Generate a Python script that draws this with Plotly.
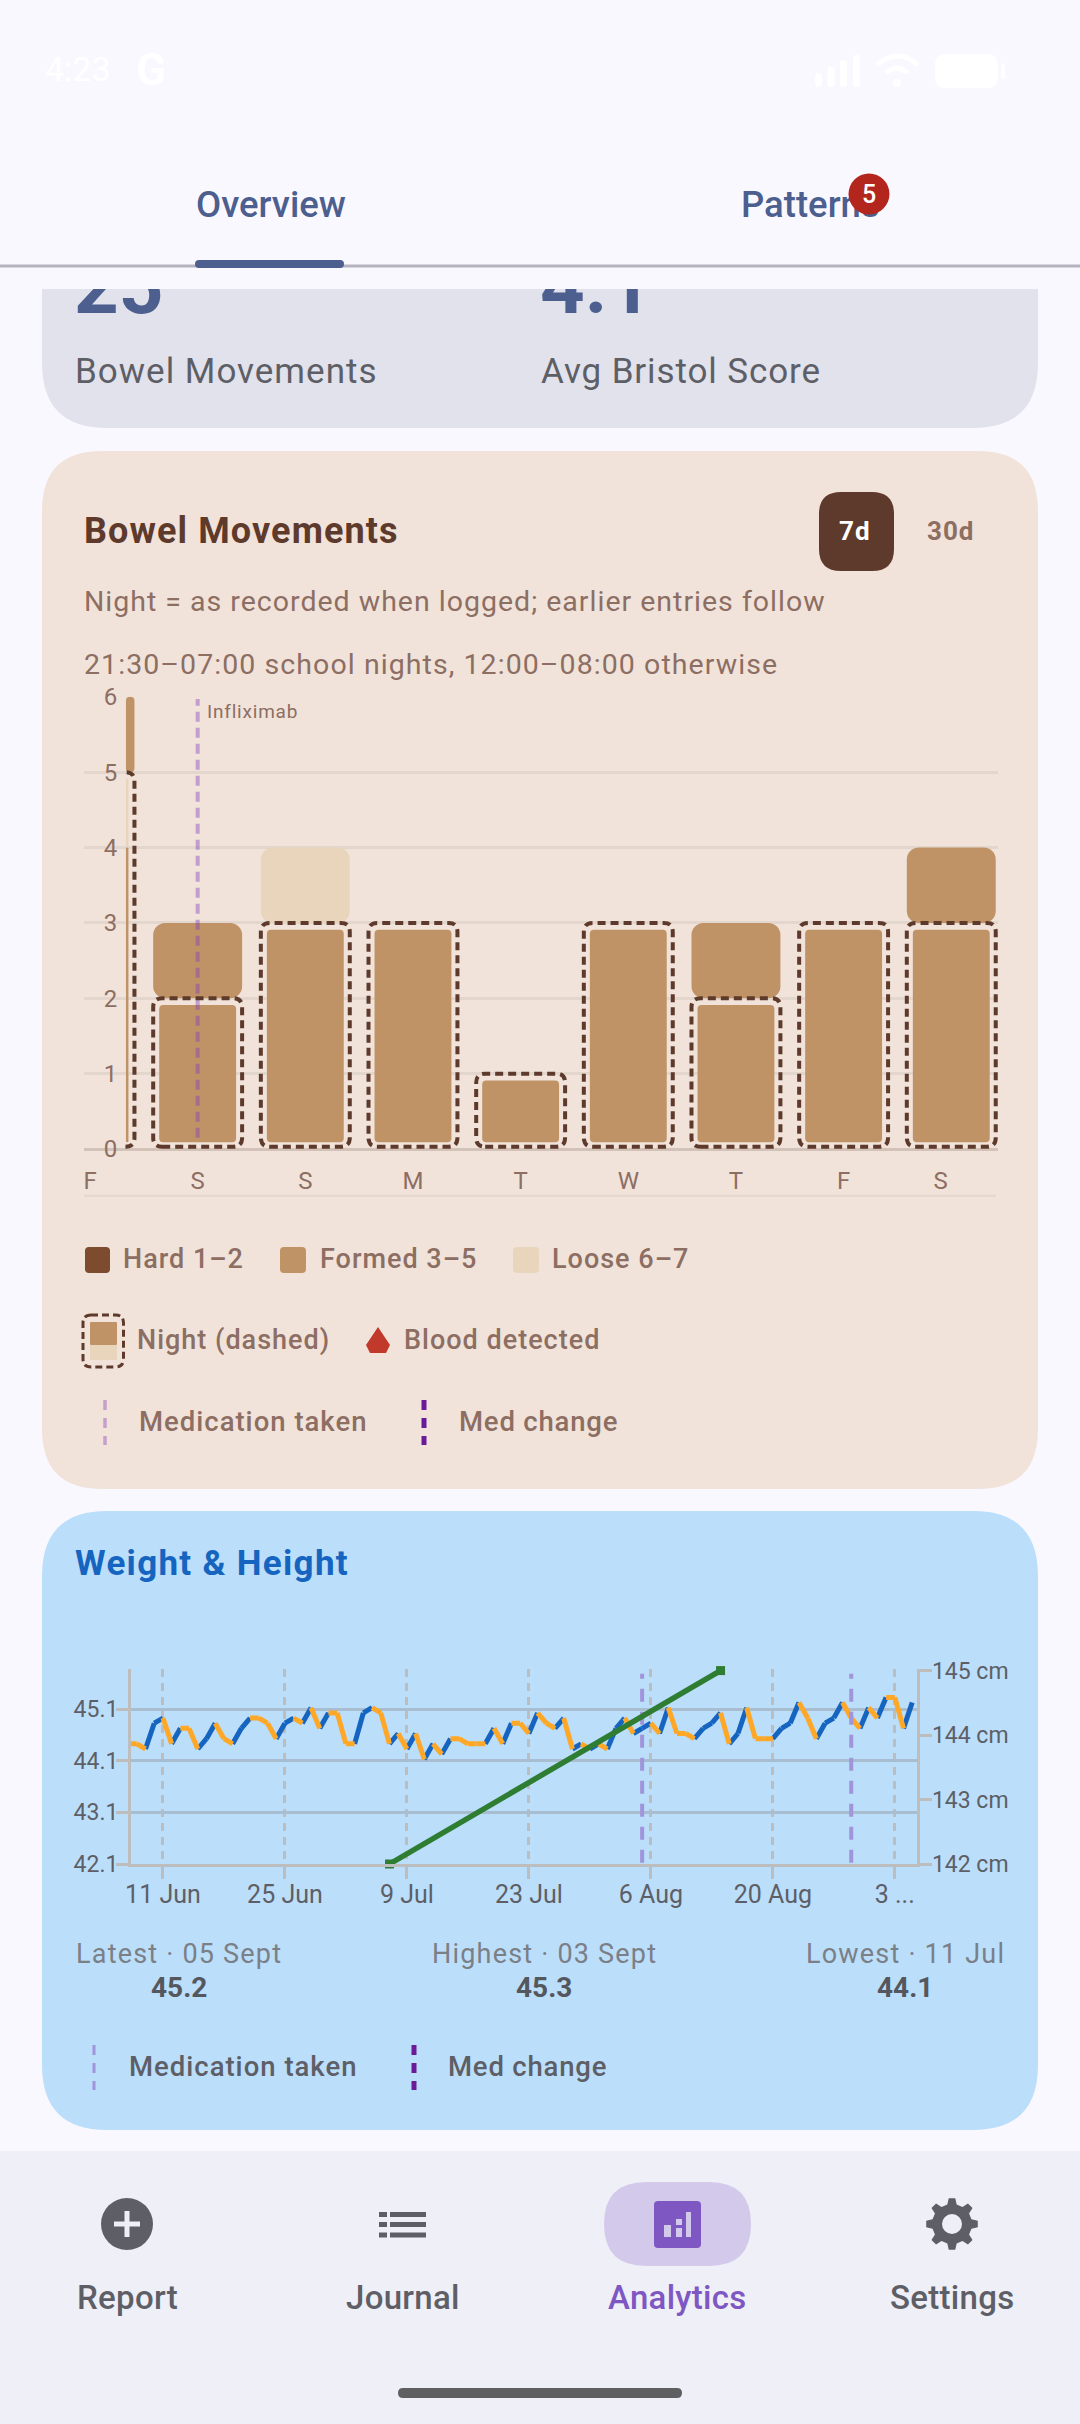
#!/usr/bin/env python3

import math
import pandas as pd
import plotly.graph_objects as go

W, H = 1080, 2424
FONT = "Roboto"

# bowel movements, one slot per day
days = ["F", "S", "S", "M", "T", "W", "T", "F", "S"]
night_hard = [0, 0, 0, 0, 0, 0, 0, 0, 0]
night_formed = [4, 2, 3, 3, 1, 3, 2, 3, 3]
night_loose = [1, 0, 0, 0, 0, 0, 0, 0, 0]
day_hard = [0, 0, 0, 0, 0, 0, 0, 0, 0]
day_formed = [1, 1, 0, 0, 0, 0, 1, 0, 1]
day_loose = [0, 0, 1, 0, 0, 0, 0, 0, 0]
med_slots = [1]
med_name = "Infliximab"
count_ticks = [0, 1, 2, 3, 4, 5, 6]

# weight, one value per day from 7 Jun to 5 Sep
weight = [
    44.4, 44.4, 44.3, 44.8, 44.9, 44.4, 44.7, 44.7, 44.3, 44.5, 44.8, 44.5,
    44.4, 44.7, 44.9, 44.9, 44.8, 44.5, 44.8, 44.9, 44.8, 45.1, 44.7, 45.0,
    45.0, 44.4, 44.4, 45.0, 45.1, 45.0, 44.4, 44.6, 44.3, 44.6, 44.1, 44.4,
    44.2, 44.5, 44.5, 44.4, 44.4, 44.4, 44.7, 44.4, 44.8, 44.8, 44.6, 45.0,
    44.8, 44.7, 44.9, 44.3, 44.4, 44.3, 44.4, 44.3, 44.7, 44.9, 44.6, 44.7,
    44.8, 44.6, 45.1, 44.6, 44.6, 44.5, 44.7, 44.8, 45.0, 44.4, 44.6, 45.1,
    44.5, 44.5, 44.5, 44.7, 44.8, 45.2, 44.9, 44.5, 44.8, 44.9, 45.2, 44.9,
    44.7, 45.1, 44.9, 45.3, 45.3, 44.7, 45.2,
]
weight_dates = pd.date_range("2025-06-07", periods=len(weight))
height_dates = ["2025-07-07", "2025-08-14"]
height = [142, 145]
med_dates = ["2025-08-05", "2025-08-29"]
date_ticks = ["2025-06-11", "2025-06-25", "2025-07-09", "2025-07-23", "2025-08-06", "2025-08-20", "2025-09-03"]
date_labels = ["11 Jun", "25 Jun", "9 Jul", "23 Jul", "6 Aug", "20 Aug", "3 ..."]
weight_ticks = [42.07, 43.07, 44.07, 45.07]
weight_labels = ["42.1", "43.1", "44.1", "45.1"]
height_ticks = [142, 143, 144, 145]
height_labels = ["142 cm", "143 cm", "144 cm", "145 cm"]

BG = "#FAF8FF"
BROWN = "#5D3A2B"
MUTED = "#8D6E63"
HARD = "#7D4B2E"
FORMED = "#BF9366"
LOOSE = "#E8D5BC"
INK = "#4C5F8F"
GREY = "#5E5F66"
AXIS = "#BDBDBD"

fig = go.Figure()
shapes = []
notes = []


def box(x0, y0, x1, y1, r, fill=None, line=None, width=0, dash=None, layer="below", square_top=False):
    rt = 0 if square_top else r
    path = (f"M {x0+rt} {y0} L {x1-rt} {y0} Q {x1} {y0} {x1} {y0+rt} L {x1} {y1-r} Q {x1} {y1} {x1-r} {y1} "
            f"L {x0+r} {y1} Q {x0} {y1} {x0} {y1-r} L {x0} {y0+rt} Q {x0} {y0} {x0+rt} {y0} Z")
    shapes.append(dict(type="path", xref="x", yref="y", path=path, fillcolor=fill, layer=layer,
                       line=dict(color=line or "rgba(0,0,0,0)", width=width, dash=dash)))


def dash_line(x0, y0, x1, y1, color, width, dash=None, layer="below"):
    shapes.append(dict(type="line", xref="x", yref="y", x0=x0, y0=y0, x1=x1, y1=y1, layer=layer,
                       line=dict(color=color, width=width, dash=dash)))


def spaced(text, spacing):
    return f'<span style="letter-spacing:{spacing}px">{text}</span>' if spacing else text


def label(x, y, text, size, color, anchor="left", weight=400, spacing=0):
    if anchor == "left":
        x -= 1.5
    notes.append(dict(xref="x", yref="y", x=x, y=y, text=spaced(text, spacing), showarrow=False, xanchor=anchor,
                      yanchor="middle", borderpad=0, font=dict(family=FONT, size=size, color=color, weight=weight)))


def gear(cx, cy, outer, inner, teeth=8):
    pts = []
    for i in range(teeth):
        a = 2 * math.pi * i / teeth
        step = 2 * math.pi / teeth
        for off, rad in [(-0.30, inner), (-0.16, outer), (0.16, outer), (0.30, inner)]:
            pts.append((cx + rad * math.sin(a + off * step), cy - rad * math.cos(a + off * step)))
    return "M " + " L ".join(f"{x} {y}" for x, y in pts) + " Z"


# page furniture, in screen pixels
box(42, 289, 1038, 428, 65, fill="#E1E2EC", square_top=True)
box(42, 451, 1038, 1489, 60, fill="#F1E3DA")
box(42, 1511, 1038, 2130, 65, fill="#BBDEFB")
shapes.append(dict(type="rect", xref="x", yref="y", x0=0, x1=W, y0=2151, y1=H, layer="below",
                   fillcolor="#EEEFF7", line=dict(width=0)))

# covers the top of the scrolled stat numbers
shapes.append(dict(type="rect", xref="x", yref="y", x0=0, x1=W, y0=225, y1=289, layer="above",
                   fillcolor=BG, line=dict(width=0)))
dash_line(0, 266, W, 266, "#B4B2BE", 3, layer="above")
box(195, 260, 344, 268, 4, fill=INK, layer="above")
shapes.append(dict(type="circle", xref="x", yref="y", x0=848.5, x1=889.5, y0=173.5, y1=214.5, layer="above",
                   fillcolor="#B3261E", line=dict(width=0)))

# status bar
label(45, 69, "4:23", 34, "#FFFFFF")
label(136, 70, "G", 44, "#FFFFFF", weight=700)
for x0, y0 in [(815, 73), (827.5, 67), (840, 60), (853, 55)]:
    box(x0, y0, x0 + 7, 87, 3, fill="#FFFFFF")
for d in ["M 877 65 Q 897 47 918 65", "M 886 73 Q 897 63 908 73"]:
    shapes.append(dict(type="path", xref="x", yref="y", path=d, layer="below", line=dict(color="#FFFFFF", width=5)))
shapes.append(dict(type="circle", xref="x", yref="y", x0=893, x1=901, y0=79, y1=87, layer="below",
                   fillcolor="#FFFFFF", line=dict(width=0)))
box(935, 54, 998, 88, 11, fill="#FFFFFF")
box(1001, 63, 1005, 79, 2, fill="#FFFFFF")

# tabs and stats header
label(271, 204, "Overview", 36.5, INK, "center", 500)
label(869, 194, "5", 25, "#FFFFFF", "center", 500)
label(75, 371, "Bowel Movements", 35, GREY, spacing=1)
label(541, 371, "Avg Bristol Score", 35, GREY, spacing=0.9)

# bowel card header
label(84, 531, "Bowel Movements", 36, BROWN, weight=700, spacing=1.1)
label(84, 601, "Night = as recorded when logged; earlier entries follow", 28.5, MUTED, spacing=1)
label(84, 664, "21:30–07:00 school nights, 12:00–08:00 otherwise", 28.5, MUTED, spacing=1.07)
box(819, 492, 894, 571, 22, fill=BROWN)
label(855, 531, "7d", 26, "#FFFFFF", "center", 700, 1)
label(950, 531, "30d", 26, MUTED, "center", 700, 1)
dash_line(84, 1195.7, 996, 1195.7, "#E3D6CD", 2)

# bowel legend
box(85, 1247, 110, 1273, 4, fill=HARD)
label(123, 1259, "Hard 1–2", 27, MUTED, weight=500, spacing=1)
box(280, 1247, 306, 1273, 4, fill=FORMED)
label(320, 1259, "Formed 3–5", 27, MUTED, weight=500, spacing=1)
box(513, 1247, 539, 1273, 4, fill=LOOSE)
label(552, 1259, "Loose 6–7", 27, MUTED, weight=500, spacing=1)
box(90, 1322, 117, 1345, 1, fill=FORMED)
box(90, 1345, 117, 1360, 1, fill=LOOSE)
box(83, 1315, 123.5, 1367, 8, line=BROWN, width=3, dash="7px,4px")
label(137, 1340, "Night (dashed)", 27, MUTED, weight=500, spacing=1)
shapes.append(dict(type="path", xref="x", yref="y", layer="below", fillcolor="#C0392B", line=dict(width=0),
                   path="M 378 1327 L 390 1345 L 386 1353 L 370 1353 L 366 1345 Z"))
label(404, 1340, "Blood detected", 27, MUTED, weight=500, spacing=1)
dash_line(105, 1400, 105, 1445, "#C5A0CC", 3.5, "10px,8px")
label(139, 1421, "Medication taken", 27.5, MUTED, weight=500, spacing=1)
dash_line(424, 1400, 424, 1445, "#6A1B9A", 5, "10px,8px")
label(459, 1421, "Med change", 27.5, MUTED, weight=500, spacing=0.8)

# weight card text
label(75, 1563, "Weight & Height", 35, "#1565C0", weight=700, spacing=1.3)
label(179, 1954, "Latest · 05 Sept", 27, "#7B7F86", "center", spacing=1.2)
label(544, 1954, "Highest · 03 Sept", 27, "#7B7F86", "center", spacing=1.2)
label(905, 1954, "Lowest · 11 Jul", 27, "#7B7F86", "center", spacing=1.2)
label(179, 1987, "45.2", 28, "#55575E", "center", 700)
label(544, 1987, "45.3", 28, "#55575E", "center", 700)
label(905, 1987, "44.1", 28, "#55575E", "center", 700)
dash_line(94, 2045, 94, 2090, "#A094DA", 3, "10px,8px")
label(129, 2066, "Medication taken", 27.5, GREY, weight=500, spacing=1)
dash_line(414, 2045, 414, 2090, "#6A1B9A", 5, "10px,8px")
label(448, 2066, "Med change", 27.5, GREY, weight=500, spacing=0.8)

# bottom navigation
shapes.append(dict(type="circle", xref="x", yref="y", x0=101, x1=153, y0=2198, y1=2250, layer="below",
                   fillcolor=GREY, line=dict(width=0)))
dash_line(114, 2224, 140, 2224, "#EEEFF7", 5)
dash_line(127, 2211, 127, 2237, "#EEEFF7", 5)
for y in [2214.5, 2224.5, 2235]:
    dash_line(379, y, 387, y, GREY, 5)
    dash_line(390, y, 426, y, GREY, 5)
box(604, 2182, 751, 2266, 42, fill="#D3C9EA")
box(654, 2201, 701, 2248, 4, fill="#7E57C2")
for x0, x1, y0, y1 in [(664, 671, 2225, 2237), (676, 682, 2219, 2225), (676, 682, 2228, 2237), (686, 691, 2212, 2237)]:
    box(x0, y0, x1, y1, 0, fill="#D3C9EA")
shapes.append(dict(type="path", xref="x", yref="y", layer="below", fillcolor=GREY, line=dict(width=0),
                   path=gear(952, 2224, 26, 20)))
shapes.append(dict(type="circle", xref="x", yref="y", x0=942, x1=962, y0=2214, y1=2234, layer="below",
                   fillcolor="#EEEFF7", line=dict(width=0)))
label(127, 2297, "Report", 33, GREY, "center", 500, 0.3)
label(403, 2297, "Journal", 33, GREY, "center", 500, 0.3)
label(677, 2297, "Analytics", 33, "#7E57C2", "center", 500, 0.3)
label(952, 2297, "Settings", 33, GREY, "center", 500, 0.3)
box(398, 2388, 682, 2398, 5, fill="#5F5F62")

# text that has to sit under a cover, so it goes in as a trace
fig.add_trace(go.Scatter(x=[74, 540, 741], y=[293, 293, 208], mode="text",
                         text=["25", "4.1", "Patterns"],
                         textposition="middle right", xaxis="x", yaxis="y", hoverinfo="skip",
                         textfont=dict(family=FONT, size=[78, 78, 36.5], color=INK, weight=[700, 700, 500])))

# bowel chart geometry, in axis units
slots = list(range(len(days)))
half = 0.413
clip_left = 0.334
pad_x, pad_y = 0.056, 0.09
night_total = [a + b + c for a, b, c in zip(night_hard, night_formed, night_loose)]


def add_bars(values, bottoms, color, inset, radius, tops=None):
    lefts = [max(s - half + inset, clip_left) for s in slots]
    rights = [s + half - inset for s in slots]
    los, his = [], []
    for i in slots:
        lo = bottoms[i]
        hi = lo + values[i]
        if inset:
            lo += pad_y if lo == 0 else 0.02
            if hi == tops[i]:
                hi -= pad_y
        los.append(lo)
        his.append(hi if values[i] else lo)
    fig.add_trace(go.Bar(x=slots, y=[h - l for h, l in zip(his, los)], base=los,
                         width=[r - l for r, l in zip(rights, lefts)],
                         offset=[l - s for l, s in zip(lefts, slots)],
                         marker=dict(color=color, cornerradius=radius, line=dict(width=0)),
                         xaxis="x2", yaxis="y2", hoverinfo="skip"))


cum = [0] * len(days)
for values, color in [(night_hard, HARD), (night_formed, FORMED), (night_loose, LOOSE)]:
    add_bars(values, cum, color, pad_x, 4, night_total)
    cum = [c + v for c, v in zip(cum, values)]
for values, color in [(day_hard, HARD), (day_formed, FORMED), (day_loose, LOOSE)]:
    add_bars(values, cum, color, 0, 12)
    cum = [c + v for c, v in zip(cum, values)]

# dashed night outlines
rx, ry = 9 / 107.66, 9 / 75.4
for s in slots:
    top = night_total[s]
    l, r = s - half, s + half
    y0 = 0.03
    if l < clip_left:
        path = (f"M {clip_left} {y0} L {r-rx} {y0} Q {r} {y0} {r} {y0+ry} L {r} {top-ry} "
                f"Q {r} {top} {r-rx} {top} L {clip_left} {top}")
    else:
        path = (f"M {l+rx} {y0} L {r-rx} {y0} Q {r} {y0} {r} {y0+ry} L {r} {top-ry} Q {r} {top} {r-rx} {top} "
                f"L {l+rx} {top} Q {l} {top} {l} {top-ry} L {l} {y0+ry} Q {l} {y0} {l+rx} {y0} Z")
    shapes.append(dict(type="path", xref="x2", yref="y2", path=path, layer="above",
                       line=dict(color=BROWN, width=4, dash="8px,5px")))

# medication marker on top of the bars
for s in med_slots:
    fig.add_trace(go.Scatter(x=[s, s], y=[0.15, 5.97], mode="lines", xaxis="x2", yaxis="y2", hoverinfo="skip",
                             line=dict(color="rgba(128,60,190,0.42)", width=4, dash="10px,6px")))
    notes.append(dict(xref="x2", yref="y2", x=s, y=5.8, xshift=7, text=spaced(med_name, 0.8), showarrow=False,
                      xanchor="left", yanchor="middle", font=dict(family=FONT, size=19, color=MUTED)))

# weight line, rises in blue and falls in orange
rise_x, rise_y, fall_x, fall_y = [], [], [], []
for i in range(len(weight) - 1):
    xs = [weight_dates[i], weight_dates[i + 1], None]
    ys = [weight[i], weight[i + 1], None]
    if weight[i + 1] > weight[i]:
        rise_x += xs
        rise_y += ys
    else:
        fall_x += xs
        fall_y += ys

med_x, med_y = [], []
for d in med_dates:
    med_x += [d, d, None]
    med_y += [142.02, 144.95, None]
fig.add_trace(go.Scatter(x=med_x, y=med_y, mode="lines", xaxis="x3", yaxis="y4", hoverinfo="skip",
                         line=dict(color="#A094DA", width=4, dash="13px,10px")))
fig.add_trace(go.Scatter(x=rise_x, y=rise_y, mode="lines", xaxis="x3", yaxis="y3", hoverinfo="skip",
                         line=dict(color="#1565C0", width=5)))
fig.add_trace(go.Scatter(x=fall_x, y=fall_y, mode="lines", xaxis="x3", yaxis="y3", hoverinfo="skip",
                         line=dict(color="#FFA726", width=5)))
fig.add_trace(go.Scatter(x=height_dates, y=height, mode="lines+markers", xaxis="x3", yaxis="y4", hoverinfo="skip",
                         cliponaxis=False, line=dict(color="#2E7D32", width=5.5),
                         marker=dict(symbol="square", size=9, color="#2E7D32")))

tick_font = dict(family=FONT, size=24, color=MUTED)
chart_font = dict(family=FONT, size=23, color=GREY)
date_font = dict(family=FONT, size=25, color=GREY)
fig.update_layout(
    width=W, height=H, autosize=False, showlegend=False, barmode="overlay",
    margin=dict(l=0, r=0, t=0, b=0, pad=0, autoexpand=False),
    paper_bgcolor=BG, plot_bgcolor="rgba(0,0,0,0)",
    shapes=shapes, annotations=notes,
    xaxis=dict(domain=[0, 1], range=[0, W], visible=False, anchor="y"),
    yaxis=dict(domain=[0, 1], range=[H, 0], visible=False, anchor="x"),
    xaxis2=dict(domain=[84 / W, 998 / W], range=[-0.0557, 8.434], tickvals=slots[:-1] + [7.9], ticktext=days,
                tickfont=tick_font, ticks="outside", ticklen=10, tickcolor="rgba(0,0,0,0)", showgrid=False,
                zeroline=False, showline=False, anchor="y2"),
    yaxis2=dict(domain=[1 - 1149 / H, 1 - 696.8 / H], range=[0, 6], tickvals=count_ticks, tickfont=tick_font,
                anchor="free", position=126 / W, ticks="outside", ticklen=4, tickcolor="rgba(0,0,0,0)",
                gridcolor="#E3D6CD", gridwidth=2.5, zeroline=True, zerolinecolor="#D2C2B7", zerolinewidth=2.5,
                showline=False),
    xaxis3=dict(domain=[131 / W, 917.3 / W], range=["2025-06-07 08:00", "2025-09-05 14:00"], type="date",
                tickvals=date_ticks, ticktext=date_labels, tickfont=date_font, ticks="outside", ticklen=12,
                ticklabelstandoff=-6, tickwidth=3, tickcolor=AXIS, showgrid=True, gridcolor=AXIS, gridwidth=3,
                griddash="8px,6px", zeroline=False, showline=True, linecolor=AXIS, linewidth=3, anchor="y3"),
    yaxis3=dict(domain=[1 - 1864 / H, 1 - 1669.3 / H], range=[42.07, 45.845], tickvals=weight_ticks,
                ticktext=weight_labels, tickfont=chart_font, ticks="outside", ticklen=12, tickwidth=3, tickcolor=AXIS,
                ticklabelstandoff=-7, showgrid=True, gridcolor="#A9BDD0", gridwidth=3, zeroline=False, showline=True,
                linecolor=AXIS, linewidth=3, anchor="x3"),
    yaxis4=dict(domain=[1 - 1864 / H, 1 - 1669.3 / H], range=[142, 145.02], tickvals=height_ticks,
                ticktext=height_labels, tickfont=chart_font, ticks="outside", ticklen=12, tickwidth=3, tickcolor=AXIS,
                ticklabelstandoff=-5, showgrid=False, zeroline=False, showline=True, linecolor=AXIS, linewidth=3,
                side="right", overlaying="y3", anchor="x3"),
)

fig.write_html("out.html", config=dict(displayModeBar=False),
               post_script="document.body.style.margin='0';")
